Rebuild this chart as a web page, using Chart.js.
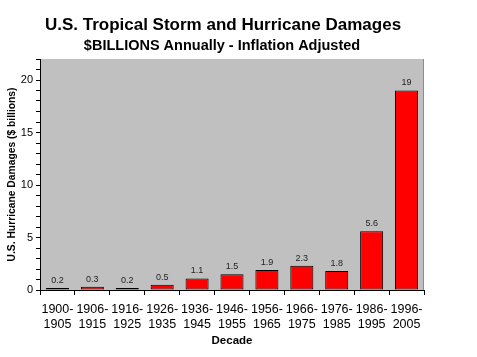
<!DOCTYPE html>
<html><head><meta charset="utf-8">
<script src="https://cdn.jsdelivr.net/npm/chart.js@4/dist/chart.umd.min.js"></script>
<style>html,body{margin:0;padding:0;background:#fff}#wrap{width:477px;height:357px}</style>
</head><body><div id="wrap"><canvas id="c" width="477" height="357"></canvas></div>
<script>
const decades = [['1900-','1905'],['1906-','1915'],['1916-','1925'],['1926-','1935'],['1936-','1945'],['1946-','1955'],['1956-','1965'],['1966-','1975'],['1976-','1985'],['1986-','1995'],['1996-','2005']];
const damages = [0.2,0.3,0.2,0.5,1.1,1.5,1.9,2.3,1.8,5.6,19];
const valueLabels = ['0.2','0.3','0.2','0.5','1.1','1.5','1.9','2.3','1.8','5.6','19'];
const titleText = 'U.S. Tropical Storm and Hurricane Damages';
const subtitleText = '$BILLIONS Annually - Inflation Adjusted';
const FONT = '"Liberation Sans", Arial, sans-serif';

const bgPlugin = {
  id:'bg',
  beforeDraw(chart){
    const {ctx, chartArea:a} = chart;
    ctx.save();
    ctx.fillStyle = '#C0C0C0';
    ctx.fillRect(a.left, a.top, a.right-a.left, a.bottom-a.top);
    ctx.strokeStyle = '#8c8c8c';
    ctx.lineWidth = 1;
    ctx.beginPath();
    ctx.moveTo(a.right-0.5, a.top); ctx.lineTo(a.right-0.5, a.bottom);
    ctx.stroke();
    ctx.restore();
  },
  afterDraw(chart){
    const {ctx} = chart;
    ctx.save();
    ctx.fillStyle = '#000';
    ctx.textAlign = 'center';
    ctx.textBaseline = 'middle';
    ctx.font = 'bold 17px ' + FONT;
    ctx.fillText(titleText, 223, 25);
    ctx.font = 'bold 14.5px ' + FONT;
    ctx.fillText(subtitleText, 222, 46);
    const meta = chart.getDatasetMeta(0);
    ctx.font = '9px ' + FONT;
    ctx.fillStyle = '#222';
    ctx.textBaseline = 'bottom';
    meta.data.forEach((bar,i)=>{
      ctx.fillText(valueLabels[i], bar.x, bar.y - 3);
    });
    ctx.restore();
  }
};

new Chart(document.getElementById('c'), {
  type:'bar',
  data:{labels:decades, datasets:[{data:damages, backgroundColor:'#FF0000', borderColor:'#000', borderWidth:1, borderSkipped:false, barPercentage:0.66, categoryPercentage:1}]},
  options:{
    responsive:false, animation:false, devicePixelRatio:1,
    layout:{padding:{top:59, right:53, left:0, bottom:0}},
    plugins:{legend:{display:false}, tooltip:{enabled:false}, title:{display:false}},
    scales:{
      x:{
        grid:{display:true, drawOnChartArea:false, drawTicks:true, tickLength:5, color:'#000', offset:true},
        border:{display:true, color:'#000', width:1},
        ticks:{color:'#000', font:{family:FONT, size:12.5, lineHeight:1.2}, padding:7, maxRotation:0, autoSkip:false},
        title:{display:true, text:'Decade', color:'#000', font:{family:FONT, size:11.5, weight:'bold'}, padding:{top:1,bottom:9}},
        afterFit(s){ s.height = 67; }
      },
      y:{
        min:0, max:22,
        grid:{display:true, drawOnChartArea:false, drawTicks:true, tickLength:4, color:'#000'},
        border:{display:true, color:'#000', width:1},
        ticks:{stepSize:1, color:'#000', font:{family:FONT, size:11}, padding:3, autoSkip:false,
          callback:(v)=> (v%5===0 && v<=20) ? String(v) : ''},
        title:{display:true, text:'U.S. Hurricane Damages ($ billions)', color:'#000', font:{family:FONT, size:10.3, weight:'bold'}, padding:{top:6,bottom:2}},
        afterFit(s){ s.width = 40; }
      }
    }
  },
  plugins:[bgPlugin]
});
</script></body></html>
